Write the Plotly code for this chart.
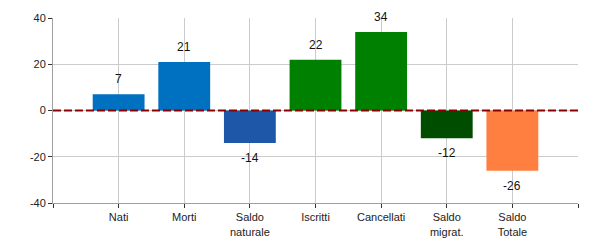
import plotly.graph_objects as go

categories = ["Nati", "Morti", "Saldo<br>naturale", "Iscritti", "Cancellati", "Saldo<br>migrat.", "Saldo<br>Totale"]
values = [7, 21, -14, 22, 34, -12, -26]
colors = ["#0070C0", "#0070C0", "#1F57A8", "#008000", "#008000", "#004D00", "#FF7F40"]
y_ticks = [-40, -20, 0, 20, 40]
y_ticktext = ["-40", "-20", "0", "20", "40"]

xs = list(range(len(categories)))

fig = go.Figure()
fig.add_trace(go.Bar(
    x=xs, y=values, marker=dict(color=colors, line=dict(width=0)),
    width=0.79, hoverinfo="skip",
))

for x, v in zip(xs, values):
    fig.add_annotation(
        x=x, y=v, text=str(v), showarrow=False,
        yshift=15 if v >= 0 else -15,
        font=dict(family="Liberation Sans, Arial", size=12, color="#111"),
    )

fig.add_shape(type="line", xref="paper", x0=0, x1=1, yref="y", y0=0, y1=0,
              line=dict(color="#8B0000", width=2, dash="8px,3px"), layer="above")

tickvals = [-1] + xs + [len(xs)]
ticktext = [""] + categories + [""]

fig.update_layout(
    width=600, height=250,
    margin=dict(l=53, r=22, t=15, b=46),
    paper_bgcolor="white", plot_bgcolor="white",
    showlegend=False,
    font=dict(family="Liberation Sans, Arial", size=11, color="#222"),
    xaxis=dict(
        range=[-1, len(xs)], tickvals=tickvals, ticktext=ticktext,
        showgrid=True, gridcolor="#CCCCCC", gridwidth=1,
        showline=True, linecolor="#A0A0A0", linewidth=1,
        ticks="outside", ticklen=4, tickcolor="#333",
        zeroline=False, tickfont=dict(size=11),
    ),
    yaxis=dict(
        range=[-40, 40], tickvals=y_ticks, ticktext=y_ticktext,
        showgrid=True, gridcolor="#CCCCCC", gridwidth=1,
        showline=True, linecolor="#A0A0A0", linewidth=1,
        ticks="outside", ticklen=4, tickcolor="#333",
        zeroline=False, tickfont=dict(size=11),
    ),
)

fig.write_html("out.html")
